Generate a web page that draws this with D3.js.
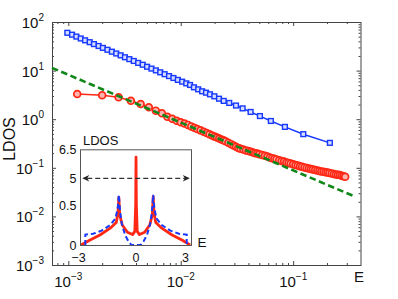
<!DOCTYPE html>
<html>
<head>
<meta charset="utf-8">
<script src="https://cdn.jsdelivr.net/npm/d3@7"></script>
<style>
  body { margin: 0; background: #fff; }
  text { font-family: "Liberation Sans", Arial, sans-serif; fill: #111; }
</style>
</head>
<body>
<svg id="chart" width="398" height="299"></svg>
<script>
// main panel: clean (blue squares) and disordered (red circles) LDOS vs E
var blueE = [0.00098, 0.00108, 0.00118, 0.00129, 0.00141, 0.00155, 0.00169, 0.00186, 0.00203, 0.00223,
  0.00244, 0.00267, 0.00292, 0.00319, 0.00349, 0.00382, 0.00418, 0.00459, 0.00502, 0.00549,
  0.00601, 0.00657, 0.00719, 0.00787, 0.00861, 0.00942, 0.0103, 0.0112, 0.0121, 0.0131,
  0.0143, 0.0155, 0.0168, 0.0182, 0.0199, 0.0219, 0.0241, 0.0270, 0.0310, 0.0355,
  0.0418, 0.0506, 0.0633, 0.0844, 0.123, 0.212];
var blueLDOS = [60.0, 54.8, 50.1, 45.8, 42.0, 38.4, 35.1, 32.1, 29.3, 26.8,
  24.5, 22.5, 20.6, 18.8, 17.2, 15.8, 14.4, 13.2, 12.0, 11.0,
  10.1, 9.22, 8.43, 7.71, 7.05, 6.44, 5.92, 5.46, 5.06, 4.53,
  4.12, 3.75, 3.51, 3.25, 2.96, 2.64, 2.38, 2.16, 1.91, 1.67,
  1.41, 1.16, 0.919, 0.695, 0.492, 0.326];

var redE = [0.0012, 0.0020, 0.0028, 0.0036, 0.0044, 0.0052, 0.0060, 0.0068, 0.0076, 0.0084,
  0.0092, 0.0100, 0.0108, 0.0116, 0.0124, 0.0132, 0.0140, 0.015, 0.016, 0.017,
  0.018, 0.019, 0.020, 0.021, 0.022, 0.023, 0.024, 0.025, 0.0265, 0.028,
  0.0295, 0.031, 0.0325, 0.034, 0.036, 0.038, 0.040, 0.042, 0.044, 0.046,
  0.048, 0.050, 0.053, 0.056, 0.059, 0.062, 0.065, 0.068, 0.071, 0.075,
  0.079, 0.083, 0.087, 0.091, 0.095, 0.100, 0.105, 0.110, 0.115, 0.120,
  0.126, 0.132, 0.138, 0.144, 0.150, 0.157, 0.164, 0.171, 0.178, 0.186,
  0.194, 0.202, 0.210, 0.220, 0.230, 0.240, 0.250, 0.260, 0.270, 0.280, 0.290];
var redLDOS = [3.30, 3.10, 2.82, 2.40, 2.06, 1.76, 1.50, 1.32, 1.125, 1.02,
  0.93, 0.863, 0.816, 0.764, 0.711, 0.668, 0.629, 0.589, 0.551, 0.518,
  0.489, 0.464, 0.438, 0.418, 0.399, 0.382, 0.368, 0.351, 0.328, 0.307,
  0.289, 0.272, 0.257, 0.246, 0.237, 0.228, 0.221, 0.213, 0.207, 0.200,
  0.196, 0.190, 0.183, 0.177, 0.170, 0.163, 0.158, 0.154, 0.149, 0.143,
  0.138, 0.134, 0.129, 0.126, 0.123, 0.118, 0.114, 0.111, 0.108, 0.105,
  0.102, 0.0995, 0.0968, 0.0944, 0.0922, 0.0901, 0.0876, 0.0855, 0.0839, 0.0828,
  0.0812, 0.0796, 0.0781, 0.0767, 0.0748, 0.0731, 0.0718, 0.0708, 0.0685, 0.0668, 0.0653];

// dashed green guide ~ 1/E
var fitE = [7.16e-4, 0.359];
var fitLDOS = [11.4, 0.0252];

var xLabels = [1e-3, 1e-2, 1e-1];
var yLabels = [1e-3, 1e-2, 1e-1, 1e0, 1e1, 1e2];

// inset: LDOS over the whole band
var insetBlueE = [-2.95, -2.95, -2.5, -2.0, -1.5, -1.2, -1.07, -1.0, -0.93, -0.83, -0.64, -0.45, -0.27, 0,
  0.27, 0.45, 0.64, 0.83, 0.93, 1.0, 1.07, 1.2, 1.5, 2.0, 2.5, 2.95, 2.95];
var insetBlueLDOS = [0, 0.13, 0.14, 0.18, 0.25, 0.33, 0.45, 2.2, 0.42, 0.27, 0.125, 0.05, 0, 0,
  0, 0.05, 0.125, 0.27, 0.42, 2.2, 0.45, 0.33, 0.25, 0.18, 0.14, 0.13, 0];
var insetRedE = [-3.2, -2.7, -2.1, -1.5, -1.15, -1.05, -1.0, -0.95, -0.8, -0.5, -0.2, -0.07, -0.02, 0,
  0.02, 0.07, 0.2, 0.5, 0.8, 0.95, 1.0, 1.05, 1.15, 1.5, 2.1, 2.7, 3.15];
var insetRedLDOS = [0, 0.06, 0.125, 0.21, 0.28, 0.4, 1.8, 0.38, 0.25, 0.16, 0.13, 0.17, 0.5, 6.1,
  0.5, 0.17, 0.13, 0.16, 0.25, 0.38, 1.9, 0.4, 0.28, 0.21, 0.125, 0.06, 0];
var insetXLabels = [-3, 0, 3];
var insetYLabels = [0, 0.5, 5, 6.5];
var arrowE = [-3.13, 3.13];
var arrowLDOS = 5;

var BLUE = '#1638ff', RED = '#ff2814', GREEN = '#11871a';

var svg = d3.select('#chart');
svg.append('rect').attr('width', 398).attr('height', 299).attr('fill', '#fff');

var plot = {left: 52, right: 360.5, top: 22, bottom: 265};

var x = d3.scaleLog().domain([7.16e-4, 0.397]).range([plot.left, plot.right]);
var y = d3.scaleLog().domain([1e-3, 1e2]).range([plot.bottom, plot.top]);

function isDecade(v) {
  var l = Math.log10(v);
  return Math.abs(l - Math.round(l)) < 1e-6;
}

// ticks on all four sides, pointing inward
function ticks(axisFn, scale, tr, size, values) {
  svg.append('g').attr('transform', tr)
    .call(axisFn(scale).tickValues(values).tickSize(size).tickFormat(''))
    .call(function (g) { g.select('.domain').remove(); })
    .selectAll('line').attr('stroke', '#444');
}
var xMinor = x.ticks().filter(function (v) { return !isDecade(v); });
var yMinor = y.ticks().filter(function (v) { return !isDecade(v); });

ticks(d3.axisBottom, x, 'translate(0,' + plot.bottom + ')', -2, xMinor);
ticks(d3.axisBottom, x, 'translate(0,' + plot.bottom + ')', -4, xLabels);
ticks(d3.axisTop, x, 'translate(0,' + plot.top + ')', -2, xMinor);
ticks(d3.axisTop, x, 'translate(0,' + plot.top + ')', -4, xLabels);
ticks(d3.axisLeft, y, 'translate(' + plot.left + ',0)', -2, yMinor);
ticks(d3.axisLeft, y, 'translate(' + plot.left + ',0)', -4, yLabels);
ticks(d3.axisRight, y, 'translate(' + plot.right + ',0)', -2, yMinor);
ticks(d3.axisRight, y, 'translate(' + plot.right + ',0)', -4, yLabels);

svg.append('rect')
  .attr('x', plot.left + 0.5).attr('y', plot.top + 0.5)
  .attr('width', plot.right - plot.left).attr('height', plot.bottom - plot.top)
  .attr('fill', 'none').attr('stroke', '#444').attr('stroke-width', 1);

function powText(sel, v) {
  var e = Math.round(Math.log10(v));
  sel.append('tspan').text('10');
  sel.append('tspan').attr('dy', -7).attr('font-size', 10)
    .text(String(e).replace('-', '\u2212'));
}

xLabels.forEach(function (v) {
  var t = svg.append('text').attr('x', x(v)).attr('y', 287)
    .attr('text-anchor', 'middle').attr('font-size', 15);
  powText(t, v);
});
yLabels.forEach(function (v) {
  var t = svg.append('text').attr('x', 44).attr('y', y(v) + 6)
    .attr('text-anchor', 'end').attr('font-size', 15);
  powText(t, v);
});

svg.append('text').attr('x', 354).attr('y', 282).attr('font-size', 15).text('E');
svg.append('text').attr('transform', 'translate(15,139) rotate(-90)')
  .attr('text-anchor', 'middle').attr('font-size', 16).text('LDOS');

// data
var blue = blueE.map(function (e, i) { return [e, blueLDOS[i]]; });
var red = redE.map(function (e, i) { return [e, redLDOS[i]]; });
var fit = fitE.map(function (e, i) { return [e, fitLDOS[i]]; });

var line = d3.line().x(function (d) { return x(d[0]); }).y(function (d) { return y(d[1]); });

svg.append('path').attr('d', line(blue)).attr('fill', 'none')
  .attr('stroke', BLUE).attr('stroke-width', 1.5);
svg.selectAll('rect.sq').data(blue).enter().append('rect').attr('class', 'sq')
  .attr('x', function (d) { return x(d[0]) - 2.4; })
  .attr('y', function (d) { return y(d[1]) - 2.4; })
  .attr('width', 4.8).attr('height', 4.8)
  .attr('fill', '#d6ddff').attr('stroke', BLUE).attr('stroke-width', 1.4);

svg.append('path').attr('d', line(red)).attr('fill', 'none')
  .attr('stroke', RED).attr('stroke-width', 1.5);
svg.selectAll('circle.rd').data(red).enter().append('circle').attr('class', 'rd')
  .attr('cx', function (d) { return x(d[0]); })
  .attr('cy', function (d) { return y(d[1]); })
  .attr('r', 3.4)
  .attr('fill', '#ffb4b0').attr('stroke', RED).attr('stroke-width', 1.7);

svg.append('path').attr('d', line(fit)).attr('fill', 'none')
  .attr('stroke', GREEN).attr('stroke-width', 2.6).attr('stroke-dasharray', '6.5,3.5');

// inset
var box = {left: 80, right: 191, top: 149.3, bottom: 245};
var ix = d3.scaleLinear().domain([-3.26, 3.2]).range([box.left, box.right]);
var iy = d3.scaleLinear().domain([0, 0.5, 5, 6.5]).range([box.bottom, 205, 178.3, box.top]);

svg.append('rect').attr('x', box.left).attr('y', box.top)
  .attr('width', box.right - box.left).attr('height', box.bottom - box.top)
  .attr('fill', '#fff');
svg.append('clipPath').attr('id', 'insetClip').append('rect')
  .attr('x', box.left).attr('y', box.top - 10)
  .attr('width', box.right - box.left).attr('height', box.bottom - box.top + 10);

var inset = svg.append('g').attr('clip-path', 'url(#insetClip)');
var iline = d3.line().x(function (d) { return ix(d[0]); }).y(function (d) { return iy(d[1]); });

var iBlue = insetBlueE.map(function (e, i) { return [e, insetBlueLDOS[i]]; });
var iRed = insetRedE.map(function (e, i) { return [e, insetRedLDOS[i]]; });

inset.append('path').attr('d', iline(iRed)).attr('fill', 'none')
  .attr('stroke', RED).attr('stroke-width', 2.8).attr('stroke-linejoin', 'round');
inset.append('path').attr('d', iline(iBlue)).attr('fill', 'none')
  .attr('stroke', BLUE).attr('stroke-width', 2).attr('stroke-dasharray', '5,3');

// double-headed dashed arrow at LDOS = 5
var ay = iy(arrowLDOS), ax0 = ix(arrowE[0]), ax1 = ix(arrowE[1]);
svg.append('line').attr('x1', ax0 + 5).attr('x2', ax1 - 5).attr('y1', ay).attr('y2', ay)
  .attr('stroke', '#333').attr('stroke-width', 1.2).attr('stroke-dasharray', '5,3');
svg.append('path').attr('fill', '#222')
  .attr('d', 'M' + ax0 + ',' + ay + 'L' + (ax0 + 7) + ',' + (ay - 3.2) + 'L' + (ax0 + 5) + ',' + ay +
    'L' + (ax0 + 7) + ',' + (ay + 3.2) + 'Z');
svg.append('path').attr('fill', '#222')
  .attr('d', 'M' + ax1 + ',' + ay + 'L' + (ax1 - 7) + ',' + (ay - 3.2) + 'L' + (ax1 - 5) + ',' + ay +
    'L' + (ax1 - 7) + ',' + (ay + 3.2) + 'Z');

svg.append('rect').attr('x', box.left + 0.5).attr('y', box.top + 0.5)
  .attr('width', box.right - box.left).attr('height', box.bottom - box.top)
  .attr('fill', 'none').attr('stroke', '#555').attr('stroke-width', 1);

insetXLabels.forEach(function (v) {
  svg.append('text').attr('x', ix(v) + (v < 0 ? -6 : v > 0 ? -2 : 0)).attr('y', 262)
    .attr('text-anchor', 'middle').attr('font-size', 12.5)
    .text(String(v).replace('-', '\u2212'));
});
insetYLabels.forEach(function (v) {
  svg.append('text').attr('x', 76.5).attr('y', iy(v) + 4.5)
    .attr('text-anchor', 'end').attr('font-size', 12.5).text(v);
});
svg.append('text').attr('x', 83).attr('y', 145).attr('font-size', 13).text('LDOS');
svg.append('text').attr('x', 197.5).attr('y', 246.5).attr('font-size', 13.5).text('E');
</script>
</body>
</html>
